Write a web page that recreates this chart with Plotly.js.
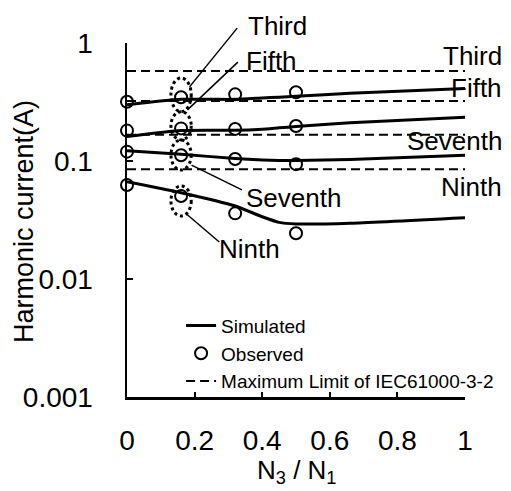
<!DOCTYPE html>
<html><head><meta charset="utf-8">
<script src="https://cdn.plot.ly/plotly-3.0.1.min.js"></script>
<style>html,body{margin:0;padding:0;background:#fff}</style>
</head><body><div id="chart" style="width:511px;height:491px"></div>
<script>
// ---- data ----
const harmonics = ['Third', 'Fifth', 'Seventh', 'Ninth'];
const simRatio = [0, 0.16, 0.32, 0.4, 0.45, 0.5, 0.66, 1.0];
const simThird   = [0.299, 0.333, 0.333, 0.342, 0.347, 0.353, 0.375, 0.412];
const simFifth   = [0.161, 0.181, 0.182, 0.186, 0.191, 0.196, 0.211, 0.235];
const simSeventh = [0.122, 0.114, 0.105, 0.102, 0.101, 0.101, 0.103, 0.112];
const simNinth   = [0.0668, 0.0539, 0.0416, 0.0337, 0.0302, 0.0293, 0.0297, 0.0331];
const obsRatio = [0, 0.16, 0.32, 0.5];
const obsThird   = [0.318, 0.347, 0.367, 0.382];
const obsFifth   = [0.181, 0.189, 0.187, 0.198];
const obsSeventh = [0.120, 0.112, 0.104, 0.094];
const obsNinth   = [0.0626, 0.0505, 0.036, 0.0244];
const limitRatio = [0, 1];
const limitValues = [0.578, 0.323, 0.167, 0.085];
const xTickVals = [0, 0.2, 0.4, 0.6, 0.8, 1];
const xTickText = ['0', '0.2', '0.4', '0.6', '0.8', '1'];
const yTickVals = [0.001, 0.01, 0.1, 1];
const yTickText = ['0.001', '0.01', '0.1', '1'];
// dotted ellipses round the observed points at N3/N1 = 0.16 (x span, y span in A)
const ellipseX = [0.13, 0.19];
const ellipseY = [[0.505, 0.262], [0.262, 0.151], [0.151, 0.084], [0.0614, 0.0342]];

const simSeries = [simThird, simFifth, simSeventh, simNinth];
const obsSeries = [obsThird, obsFifth, obsSeventh, obsNinth];
const FONT = 'Liberation Sans, Arial, sans-serif';

const traces = [];
simSeries.forEach((s, i) => traces.push({
  x: simRatio, y: s, type: 'scatter', mode: 'lines',
  name: 'Simulated', legendgroup: 'sim', showlegend: i === 0,
  line: {color: '#000', width: 3, shape: 'spline', smoothing: 0.5},
  hoverinfo: 'skip'
}));
obsSeries.forEach((s, i) => traces.push({
  x: obsRatio, y: s, type: 'scatter', mode: 'markers',
  name: 'Observed', legendgroup: 'obs', showlegend: i === 0, cliponaxis: false,
  marker: {symbol: 'circle-open', size: 12, color: '#000', line: {width: 2, color: '#000'}}
}));
limitValues.forEach((v, i) => traces.push({
  x: limitRatio, y: [v, v], type: 'scatter', mode: 'lines',
  name: 'Maximum Limit of IEC61000-3-2', legendgroup: 'lim', showlegend: i === 0,
  line: {color: '#000', width: 2, dash: '9px,5px'}
}));

const shapes = [];
ellipseY.forEach(yy => shapes.push({
  type: 'circle', xref: 'x', yref: 'y', x0: ellipseX[0], x1: ellipseX[1], y0: yy[0], y1: yy[1],
  line: {color: '#000', width: 3, dash: 'dot'}
}));
// leader lines from the ellipses to the labels (paper units)
const leaders = [
  [0.185, 0.876, 0.326, 1.042],
  [0.179, 0.811, 0.328, 0.946],
  [0.191, 0.655, 0.340, 0.585],
  [0.176, 0.517, 0.273, 0.438]
];
leaders.forEach(l => shapes.push({
  type: 'line', xref: 'paper', yref: 'paper', x0: l[0], y0: l[1], x1: l[2], y1: l[3],
  line: {color: '#000', width: 1.5}
}));

const annotations = [];
// left labels
const leftLab = [[0.352, 1.048], [0.346, 0.949], [0.346, 0.562], [0.267, 0.418]];
harmonics.forEach((h, i) => annotations.push({
  text: h, xref: 'paper', yref: 'paper', x: leftLab[i][0], y: leftLab[i][1],
  xanchor: 'left', yanchor: 'middle', showarrow: false, font: {size: 26, family: FONT}
}));
// right labels
const rightLab = [0.963, 0.873, 0.723, 0.593];
harmonics.forEach((h, i) => annotations.push({
  text: h, xref: 'paper', yref: 'paper', x: 1.114, y: rightLab[i],
  xanchor: 'right', yanchor: 'middle', showarrow: false, font: {size: 26, family: FONT}
}));
// axis titles
annotations.push({
  text: 'Harmonic current(A)', xref: 'paper', yref: 'paper', x: -0.305, y: 0.497,
  xanchor: 'center', yanchor: 'middle', textangle: -90, showarrow: false,
  font: {size: 27, family: FONT}
});
annotations.push({
  text: 'N<sub>3</sub> / N<sub>1</sub>', xref: 'paper', yref: 'paper', x: 0.5, y: -0.262,
  xanchor: 'center', yanchor: 'bottom', showarrow: false,
  font: {size: 26, family: FONT}
});

const layout = {
  width: 511, height: 491,
  margin: {l: 127, r: 43, t: 43, b: 94, pad: 0},
  paper_bgcolor: '#fff', plot_bgcolor: '#fff',
  font: {family: FONT, color: '#000', size: 19},
  showlegend: true,
  legend: {x: 0.16, y: 0.255, xanchor: 'left', yanchor: 'top', bgcolor: 'rgba(0,0,0,0)',
           font: {size: 19, family: FONT}, tracegroupgap: 0, traceorder: 'normal'},
  xaxis: {
    range: [0, 1], tickvals: xTickVals, ticktext: xTickText,
    ticks: 'inside', ticklen: 5, tickwidth: 2, tickcolor: '#000',
    showline: true, linewidth: 2.5, linecolor: '#000', mirror: false,
    showgrid: false, zeroline: false, ticklabelstandoff: 17,
    tickfont: {size: 28, family: FONT}
  },
  yaxis: {
    type: 'log', range: [-3, 0], tickvals: yTickVals, ticktext: yTickText,
    ticks: 'inside', ticklen: 6, tickwidth: 2, tickcolor: '#000',
    showline: true, linewidth: 2.5, linecolor: '#000',
    showgrid: false, zeroline: false, ticklabelstandoff: 26,
    tickfont: {size: 28, family: FONT}
  },
  shapes: shapes,
  annotations: annotations
};

Plotly.newPlot('chart', traces, layout, {displayModeBar: false, staticPlot: true});
</script>
</body></html>
